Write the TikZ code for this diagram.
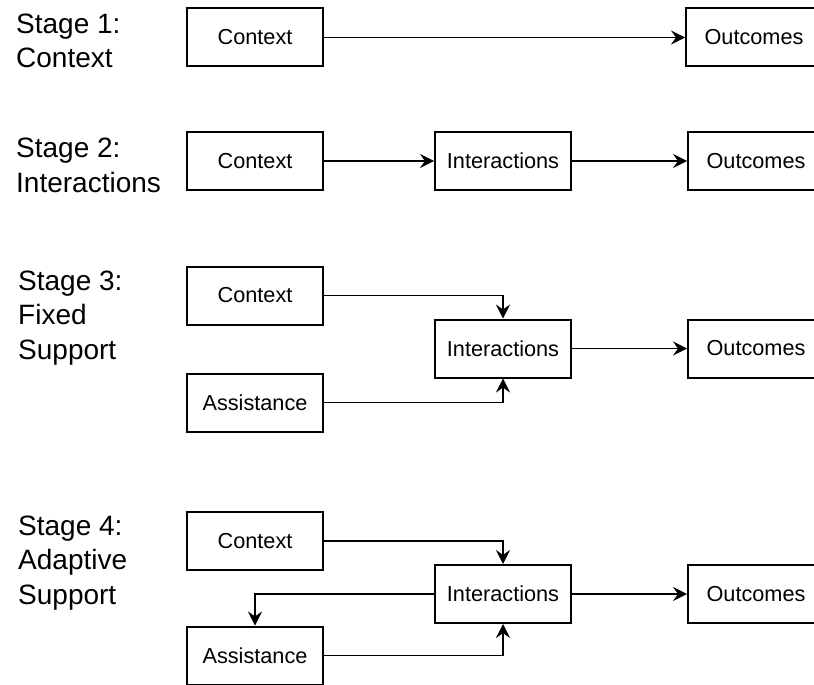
\documentclass[tikz,border=0pt]{standalone}
\usepackage{fontspec}
\setmainfont{Liberation Sans}
\usetikzlibrary{arrows.meta,positioning}
\begin{document}
\begin{tikzpicture}[x=1pt,y=-1pt,
  box/.style={draw,line width=2pt,minimum width=136pt,minimum height=58pt,inner sep=0pt,
    font=\fontsize{21.7}{26}\selectfont},
  stagelbl/.style={anchor=base west,align=left,inner sep=0pt,
    font=\fontsize{28}{34.5}\selectfont},
  link/.style={line width=1.2pt,-{Stealth[length=14pt,width=14pt,inset=5pt]}}]
\useasboundingbox (0,0) rectangle (814,685);
\clip (0,0) rectangle (814,685);

% stage labels (anchored at the baseline of their last line)
\node[stagelbl] (l1) at (16,68) {Stage 1:\\Context};
\node[stagelbl] (l2) at (16,192) {Stage 2:\\Interactions};
\node[stagelbl] (l3) at (18,359) {Stage 3:\\Fixed\\Support};
\node[stagelbl] (l4) at (18,604) {Stage 4:\\Adaptive\\Support};

% stage 1
\node[box] (c1) at (255,37.5) {Context};
\node[box] (o1) at (754,37.5) {Outcomes};
\draw[link] (c1) -- (o1);

% stage 2
\node[box] (c2) at (255,161) {Context};
\node[box] (i2) at (503,161) {Interactions};
\node[box] (o2) at (756,161) {Outcomes};
\draw[link] (c2) -- (i2);
\draw[link] (i2) -- (o2);

% stage 3
\node[box] (c3) at (255,295.5) {Context};
\node[box] (i3) at (503,348.5) {Interactions};
\node[box] (a3) at (255,402.5) {Assistance};
\node[box] (o3) at (756,348.5) {Outcomes};
\draw[link] (c3.east) -| (i3.north);
\draw[link] (a3.east) -| (i3.south);
\draw[link] (i3) -- (o3);

% stage 4
\node[box] (c4) at (255,541) {Context};
\node[box] (i4) at (503,594) {Interactions};
\node[box] (a4) at (255,655.5) {Assistance};
\node[box] (o4) at (756,594) {Outcomes};
\draw[link] (c4.east) -| (i4.north);
\draw[link] (a4.east) -| (i4.south);
\draw[link] (i4.west) -| (a4.north);
\draw[link] (i4) -- (o4);
\end{tikzpicture}
\end{document}
